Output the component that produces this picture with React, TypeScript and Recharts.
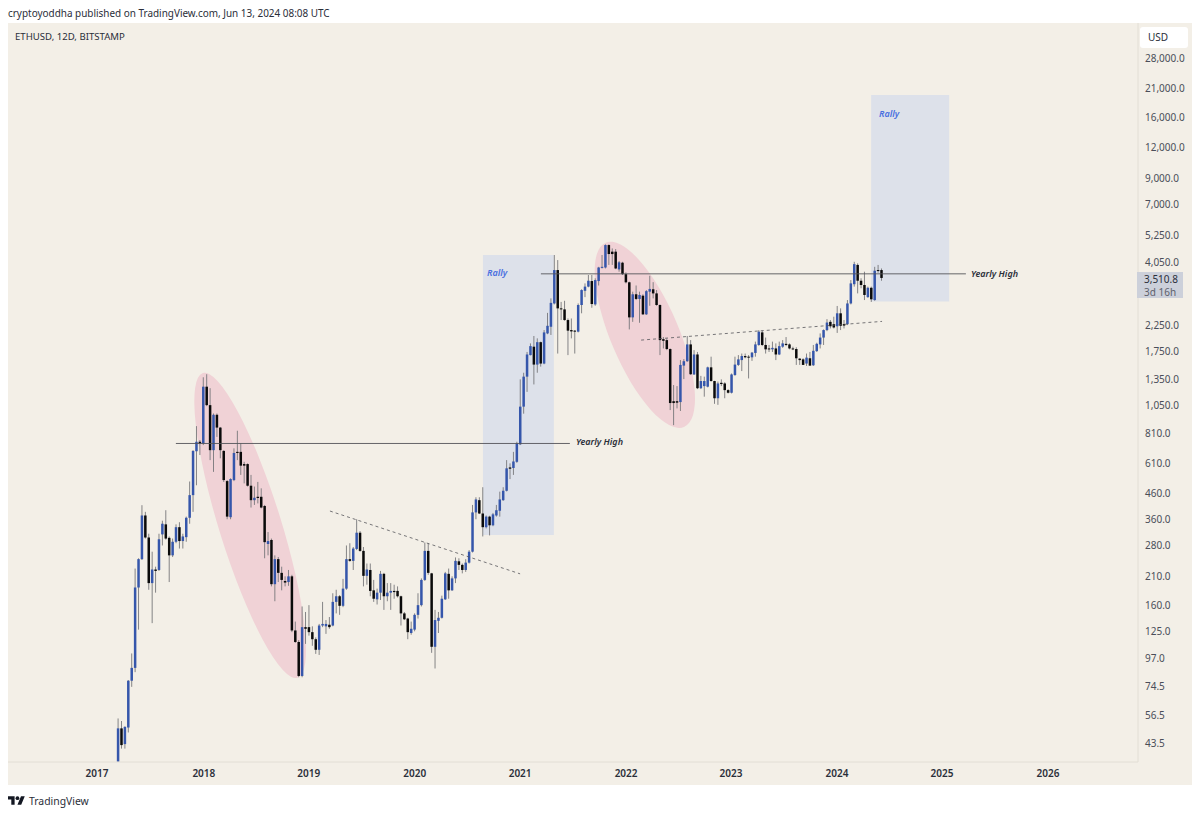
import React from 'react';
import {
  ComposedChart,
  Bar,
  XAxis,
  YAxis,
  ReferenceArea,
  ReferenceLine,
  ReferenceDot,
} from 'recharts';

// ETHUSD 12D candles
const opens = [
  36.5, 50, 43.1, 50.4, 78.4, 88.5, 189, 247, 373, 303, 197, 224, 223, 312, 343, 302, 256, 291, 334, 293, 304, 365, 452, 684, 748, 736, 1258, 1057, 691, 965, 855, 686, 516,
  367, 521, 680, 680, 606, 606, 494, 431, 445, 445, 408, 285, 296, 195, 247, 217, 201, 199, 210, 126, 113, 82, 130, 130, 124, 116, 105, 132, 131, 133, 132, 165, 174, 159, 187,
  247, 243, 272, 317, 267, 211, 223, 184, 169, 180, 215, 174, 180, 183, 183, 174, 148, 141, 123, 127, 146, 160, 203, 267, 216, 108, 138, 142, 169, 215, 184, 206, 242, 234, 223, 239,
  265, 384, 431, 380, 334, 369, 340, 373, 390, 431, 471, 587, 584, 619, 730, 1042, 1383, 1695, 1835, 1550, 1915, 1565, 2080, 2215, 2760, 3783, 2635, 2610, 2360, 2147, 2135, 2115, 2720, 3110, 3235,
  3410, 2735, 3410, 3860, 3875, 4790, 4500, 4500, 3805, 4055, 3640, 3370, 2420, 3010, 2880, 2970, 2490, 3085, 3155, 3035, 2720, 1970, 1953, 1795, 1097, 1097, 1088, 1535, 1600, 1875, 1412, 1705,
  1240, 1265, 1258, 1510, 1327, 1128, 1305, 1297, 1218, 1188, 1405, 1545, 1617, 1680, 1670, 1660, 1730, 1865, 2100, 1865, 1805, 1790, 1805, 1705, 1835, 1885, 1875, 1805, 1795, 1640, 1628, 1565,
  1645, 1540, 1760, 1875, 2000, 2147, 2320, 2270, 2225, 2515, 2270, 2270, 2760, 3310, 3970, 3420, 3285, 2930, 3200, 2850, 3783, 3783,
];
const highs = [
  54.9, 53.6, 51, 78.9, 101.4, 226, 249, 411, 386, 314, 265, 230, 314, 355, 392, 306, 300, 343, 350, 314, 369, 514, 691, 867, 760, 1375, 1415, 1240, 977, 977, 860, 691, 521,
  530, 703, 830, 736, 619, 610, 547, 490, 512, 482, 412, 319, 300, 256, 252, 230, 210, 223, 213, 137, 115, 158, 150, 160, 131, 118, 134, 165, 139, 143, 179, 185, 176, 205, 281,
  287, 277, 360, 322, 277, 237, 237, 203, 187, 221, 217, 197, 197, 194, 191, 175, 150, 142, 137, 148, 179, 206, 289, 287, 217, 153, 150, 175, 219, 226, 210, 251, 249, 237, 247, 269,
  412, 443, 443, 487, 373, 372, 382, 412, 467, 487, 629, 610, 680, 748, 1348, 1435, 1746, 1893, 2030, 1985, 1925, 2147, 2525, 2895, 4360, 4157, 2800, 2830, 2395, 2395, 2147, 2760, 3155, 3335, 3610,
  3610, 3500, 3900, 4360, 4820, 4820, 4640, 4610, 4120, 4090, 3700, 3390, 3085, 3270, 3085, 3010, 3132, 3585, 3375, 3132, 2735, 2010, 1985, 1805, 1278, 1265, 1617, 1633, 2030, 1953, 1777, 1746,
  1393, 1383, 1520, 1670, 1330, 1320, 1348, 1312, 1228, 1425, 1670, 1695, 1720, 1720, 1695, 1746, 1925, 2147, 2135, 2000, 1865, 1925, 1893, 1925, 1953, 2010, 1893, 1835, 1825, 1645, 1645, 1720,
  1746, 1865, 1905, 2080, 2160, 2380, 2360, 2435, 2695, 2635, 2360, 2850, 3442, 4090, 4030, 3500, 3725, 3235, 3235, 3900, 3970, 3840,
];
const lows = [
  36.5, 41.3, 41.3, 48.1, 74, 85, 127, 245, 300, 185, 135, 180, 221, 281, 297, 199, 252, 287, 273, 273, 291, 345, 386, 496, 660, 725, 1047, 629, 563, 783, 640, 512, 360,
  360, 516, 629, 547, 505, 490, 402, 412, 418, 399, 249, 256, 191, 166, 199, 184, 191, 192, 124, 112, 81, 81, 111, 120, 109, 101, 100, 130, 122, 128, 131, 148, 146, 157, 185,
  241, 223, 269, 265, 191, 194, 174, 165, 161, 168, 153, 166, 153, 170, 172, 132, 139, 116, 121, 125, 141, 158, 201, 213, 102, 88, 123, 141, 168, 170, 183, 197, 223, 216, 219, 237,
  263, 360, 378, 306, 330, 309, 337, 369, 369, 428, 468, 526, 547, 613, 725, 975, 1198, 1690, 1285, 1435, 1520, 1555, 2065, 2050, 2735, 1720, 2360, 2345, 1695, 1985, 1720, 2100, 2515, 2930, 3215,
  2650, 2700, 3270, 3840, 3840, 3970, 3970, 3815, 3725, 3610, 3335, 2160, 2320, 2850, 2300, 2475, 2475, 2700, 2895, 2700, 1695, 1805, 1777, 1009, 875, 1025, 1000, 1352, 1590, 1405, 1405, 1230,
  1230, 1145, 1250, 1320, 1070, 1060, 1265, 1128, 1180, 1180, 1393, 1530, 1458, 1645, 1360, 1605, 1670, 1850, 1845, 1720, 1746, 1746, 1617, 1695, 1815, 1845, 1790, 1777, 1545, 1545, 1545, 1530,
  1530, 1530, 1746, 1805, 1865, 2125, 2180, 2180, 2090, 2147, 2180, 2250, 2735, 3235, 3035, 3185, 2850, 2910, 2800, 2830, 3690, 3420,
];
const closes = [
  50, 42.7, 50.7, 78.4, 88.5, 189, 247, 373, 303, 197, 224, 221, 298, 345, 300, 256, 291, 334, 293, 306, 365, 452, 686, 748, 736, 1258, 1057, 691, 965, 855, 691, 521, 369,
  526, 673, 673, 597, 597, 494, 431, 441, 440, 402, 290, 293, 195, 247, 217, 203, 198, 210, 126, 113, 82, 130, 128, 124, 116, 105, 132, 134, 134, 130, 165, 174, 159, 187, 247,
  243, 273, 317, 267, 211, 224, 183, 170, 180, 215, 174, 180, 183, 181, 174, 148, 140, 124, 128, 146, 160, 203, 267, 217, 108, 139, 142, 170, 216, 184, 206, 243, 234, 223, 239, 265,
  384, 434, 380, 334, 369, 340, 377, 392, 434, 471, 582, 580, 621, 736, 1042, 1383, 1705, 1845, 1550, 1915, 1565, 2100, 2235, 2775, 3783, 2635, 2610, 2360, 2135, 2120, 2115, 2720, 3132, 3235, 3420,
  2745, 3442, 3875, 3900, 4790, 4400, 4400, 3840, 4070, 3640, 3370, 2420, 3010, 2880, 2990, 2490, 3100, 3165, 3035, 2720, 1953, 1940, 1795, 1078, 1078, 1082, 1545, 1600, 1875, 1415, 1705, 1240,
  1327, 1327, 1510, 1327, 1128, 1297, 1290, 1218, 1188, 1412, 1550, 1628, 1680, 1660, 1655, 1735, 1875, 2115, 1865, 1790, 1790, 1815, 1705, 1845, 1893, 1865, 1805, 1790, 1645, 1617, 1545, 1655,
  1535, 1765, 1885, 2000, 2147, 2305, 2225, 2200, 2515, 2235, 2240, 2760, 3335, 4000, 3420, 3285, 2990, 3200, 2870, 3760, 3750, 3510.8,
];

const yearLabels = ['2017', '2018', '2019', '2020', '2021', '2022', '2023', '2024', '2025', '2026'];
const yearBars = [-5.25, 26.1, 56.9, 88, 118.9, 150, 180.8, 211.9, 242.7, 273.8];
const priceTicks = [
  43.5, 56.5, 74.5, 97, 125, 160, 210, 280, 360, 460, 610, 810, 1050, 1350, 1750, 2250, 4050, 5250, 7000, 9000, 12000, 16000, 21000, 28000,
];

const candles = opens.map((open, i) => ({
  bar: i + 1,
  open,
  high: highs[i],
  low: lows[i],
  close: closes[i],
  range: [lows[i], highs[i]],
}));

const UP = '#3556ab';
const DOWN = '#0a0a0a';
const WICK = '#77777a';
const FONT = '"Noto Sans", sans-serif';

function Candle(props: any) {
  const { x, y, width, height, payload } = props;
  const { open, high, low, close } = payload;
  const cx = x + width / 2;
  const span = Math.log(high / low) || 1;
  const at = (v: number) => y + (height * Math.log(high / v)) / span;
  const top = at(Math.max(open, close));
  const bottom = at(Math.min(open, close));
  return (
    <g>
      <line x1={cx} x2={cx} y1={y} y2={y + height} stroke={WICK} strokeWidth={0.9} />
      <rect
        x={cx - 1.25}
        width={2.5}
        y={top}
        height={Math.max(bottom - top, 1)}
        fill={close >= open ? UP : DOWN}
      />
    </g>
  );
}

// the area's two corners are the ends of the long axis
function TiltedEllipse(props: any) {
  const { x, y, width, height, minor } = props;
  const cx = x + width / 2;
  const cy = y + height / 2;
  const angle = (Math.atan2(height, width) * 180) / Math.PI;
  return (
    <ellipse
      cx={cx}
      cy={cy}
      rx={Math.hypot(width, height) / 2}
      ry={minor}
      transform={`rotate(${angle} ${cx} ${cy})`}
      fill="#f0d2d6"
    />
  );
}

const noteStyle = { fontFamily: FONT, fontSize: 9, fontStyle: 'italic', fontWeight: 600 };

function App() {
  return (
    <div style={{ position: 'absolute', left: 0, top: 0, width: 1200, height: 816, background: '#fff', fontFamily: FONT }}>
      <div style={{ position: 'absolute', left: 8, top: 6, fontSize: 9.95, color: '#2a2e39', whiteSpace: 'nowrap' }}>
        cryptoyoddha published on TradingView.com, Jun 13, 2024 08:08 UTC
      </div>
      <div style={{ position: 'absolute', left: 8, top: 23, width: 1184, height: 762, background: '#f3efe7' }}>
        <ComposedChart
          width={1184}
          height={762}
          data={candles}
          margin={{ top: 0, right: 0, bottom: 0, left: 0 }}
        >
          <XAxis
            dataKey="bar"
            type="number"
            domain={[-31.36, 300.2]}
            ticks={yearBars}
            interval={0}
            tickFormatter={(v) => yearLabels[yearBars.indexOf(v)]}
            tickLine={false}
            axisLine={{ stroke: '#e2ded5' }}
            height={23}
            tick={{ fontFamily: FONT, fontSize: 10, fontWeight: 600, fill: '#2a2e39' }}
            allowDataOverflow
          />
          <YAxis
            orientation="right"
            type="number"
            scale="log"
            domain={[36.4, 38960]}
            ticks={priceTicks}
            interval={0}
            tickFormatter={(v) => v.toLocaleString('en-US', { minimumFractionDigits: 1, maximumFractionDigits: 1 })}
            tickLine={false}
            axisLine={{ stroke: '#e2ded5' }}
            tickMargin={1}
            width={54}
            tick={{ fontFamily: FONT, fontSize: 10, fill: '#4a4e59', textAnchor: 'start' }}
            allowDataOverflow
          />

          <ReferenceArea x1={108} x2={128.8} y1={310} y2={4360} fill="#dde1ea" fillOpacity={1} stroke="none" />
          <ReferenceArea x1={221.9} x2={244.8} y1={2810} y2={19740} fill="#dde1ea" fillOpacity={1} stroke="none" />
          <ReferenceArea x1={25.8} x2={53.6} y1={80.6} y2={1430} shape={(p: any) => <TiltedEllipse {...p} minor={31} />} />
          <ReferenceArea x1={144} x2={167} y1={860} y2={4900} shape={(p: any) => <TiltedEllipse {...p} minor={34} />} />

          <Bar
            dataKey="range"
            barSize={3}
            shape={<Candle />}
            isAnimationActive={false}
          />

          <ReferenceLine segment={[{ x: 17.9, y: 736 }, { x: 133.5, y: 736 }]} stroke="#55555a" strokeWidth={0.9} />
          <ReferenceLine segment={[{ x: 125, y: 3650 }, { x: 249.7, y: 3650 }]} stroke="#55555a" strokeWidth={0.9} />
          <ReferenceLine segment={[{ x: 63.1, y: 389 }, { x: 118.9, y: 215 }]} stroke="#55555a" strokeWidth={0.8} strokeDasharray="3 3" />
          <ReferenceLine segment={[{ x: 154.4, y: 1953 }, { x: 225.1, y: 2330 }]} stroke="#55555a" strokeWidth={0.8} strokeDasharray="3 3" />

          <ReferenceDot x={109.2} y={3690} r={0} stroke="none" label={{ value: 'Rally', position: 'right', offset: 0, fill: '#4a6fe0', ...noteStyle }} />
          <ReferenceDot x={224.2} y={16500} r={0} stroke="none" label={{ value: 'Rally', position: 'right', offset: 0, fill: '#4a6fe0', ...noteStyle }} />
          <ReferenceDot x={135.3} y={745} r={0} stroke="none" label={{ value: 'Yearly High', position: 'right', offset: 0, fill: '#2a2e39', ...noteStyle }} />
          <ReferenceDot x={251.2} y={3650} r={0} stroke="none" label={{ value: 'Yearly High', position: 'right', offset: 0, fill: '#2a2e39', ...noteStyle }} />
        </ComposedChart>

        <div style={{ position: 'absolute', left: 7, top: 7, fontSize: 9.6, color: '#2a2e39', whiteSpace: 'nowrap' }}>ETHUSD, 12D, BITSTAMP</div>
        <div style={{ position: 'absolute', left: 1132, top: 4, width: 48, height: 21, background: '#fff', borderRadius: 3, fontSize: 10, color: '#2a2e39', lineHeight: '21px', textIndent: 8 }}>USD</div>
        <div style={{ position: 'absolute', left: 1129, top: 249, width: 46, height: 26, background: '#ccd0da', color: '#2a2e39', fontSize: 10, lineHeight: '12.5px', paddingLeft: 7, boxSizing: 'border-box', paddingTop: 1 }}>
          3,510.8
          <br />
          <span style={{ color: '#5d606b' }}>3d 16h</span>
        </div>
      </div>
      <svg style={{ position: 'absolute', left: 8, top: 796 }} width={17} height={9} viewBox="0 4 36 18">
        <path d="M14 22H7V11H0V4h14v18zM28 22h-8l7.5-18h8L28 22z" fill="#131722" />
        <circle cx={20} cy={8} r={4} fill="#131722" />
      </svg>
      <div style={{ position: 'absolute', left: 29, top: 794, fontSize: 10.4, color: '#2a2e39' }}>TradingView</div>
    </div>
  );
}

export default App;
